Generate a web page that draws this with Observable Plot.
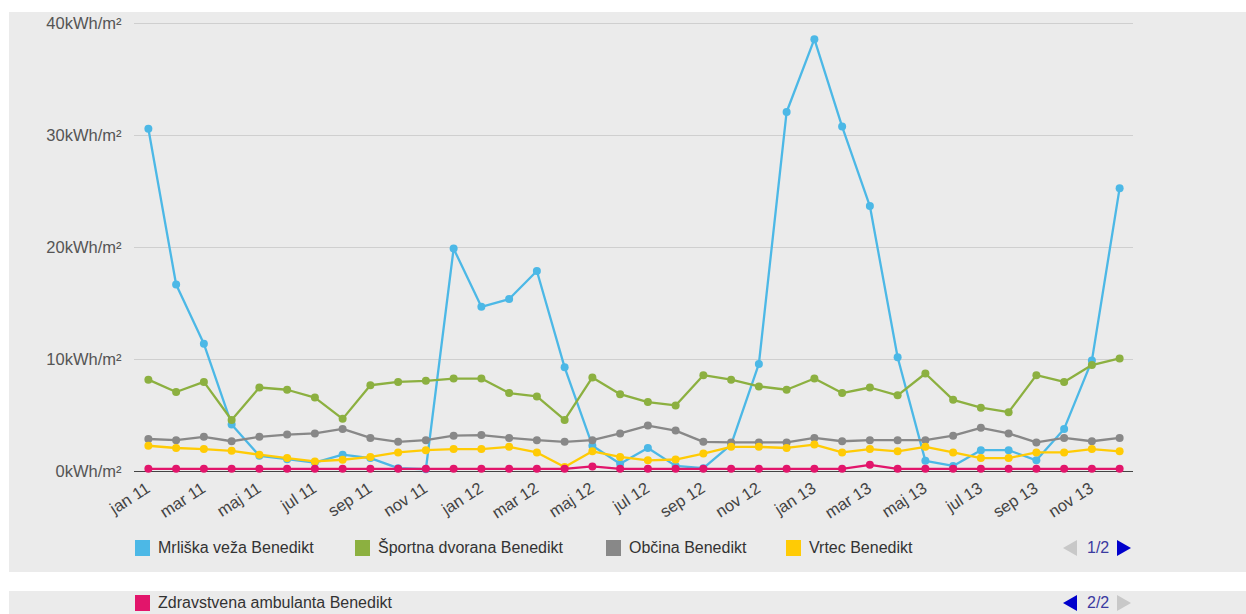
<!DOCTYPE html>
<html>
<head>
<meta charset="utf-8">
<script src="https://cdn.jsdelivr.net/npm/d3@7"></script>
<script src="https://cdn.jsdelivr.net/npm/@observablehq/plot@0.6"></script>
<style>
  html, body { margin: 0; padding: 0; background: #fff; width: 1246px; height: 614px; overflow: hidden; font-family: "Liberation Sans", Arial, sans-serif; }
  #panel { position: absolute; left: 9px; top: 12px; width: 1237px; height: 560px; background: #ebebeb; }
  #strip2 { position: absolute; left: 9px; top: 591px; width: 1237px; height: 23px; background: #ebebeb; }
  #chart { position: absolute; left: 0; top: 0; }
  .sw { position: absolute; width: 15px; height: 16px; }
  .lt { position: absolute; font-size: 16px; color: #333; white-space: nowrap; line-height: 16px; }
  .pg { position: absolute; font-size: 16px; color: #3a3aa0; line-height: 16px; }
  .tri { position: absolute; width: 0; height: 0; border-top: 8px solid transparent; border-bottom: 8px solid transparent; }
</style>
</head>
<body>
<div id="panel"></div>
<div id="strip2"></div>
<div id="chart"></div>
<div id="legend"></div>
<script>
const months = [
  "jan 11","feb 11","mar 11","apr 11","maj 11","jun 11","jul 11","avg 11","sep 11","okt 11","nov 11","dec 11",
  "jan 12","feb 12","mar 12","apr 12","maj 12","jun 12","jul 12","avg 12","sep 12","okt 12","nov 12","dec 12",
  "jan 13","feb 13","mar 13","apr 13","maj 13","jun 13","jul 13","avg 13","sep 13","okt 13","nov 13","dec 13"
];
const seriesNames = ["Mrliška veža Benedikt","Športna dvorana Benedikt","Občina Benedikt","Vrtec Benedikt","Zdravstvena ambulanta Benedikt"];
const seriesColors = ["#4cb8e6","#8cb040","#888888","#ffcb05","#e2156b"];
const mrliska = [30.6,16.7,11.4,4.2,1.4,1.1,0.8,1.5,1.2,0.3,0.2,19.9,14.7,15.4,17.9,9.3,2.3,0.7,2.1,0.5,0.3,2.4,9.6,32.1,38.6,30.8,23.7,10.2,0.95,0.5,1.9,1.9,1.0,3.8,9.9,25.3];
const sportna = [8.2,7.1,8.0,4.6,7.5,7.3,6.6,4.7,7.7,8.0,8.1,8.3,8.3,7.0,6.7,4.6,8.4,6.9,6.2,5.9,8.6,8.2,7.6,7.3,8.3,7.0,7.5,6.8,8.75,6.4,5.7,5.3,8.6,8.0,9.5,10.1];
const obcina = [2.9,2.8,3.1,2.7,3.1,3.3,3.4,3.8,3.0,2.65,2.8,3.2,3.25,3.0,2.8,2.65,2.8,3.4,4.1,3.65,2.65,2.6,2.6,2.6,3.0,2.7,2.8,2.8,2.8,3.2,3.9,3.4,2.6,3.0,2.7,3.0];
const vrtec = [2.3,2.1,2.0,1.85,1.5,1.2,0.9,1.05,1.3,1.7,1.9,2.0,2.0,2.2,1.7,0.4,1.8,1.3,1.0,1.07,1.6,2.2,2.2,2.1,2.4,1.7,2.0,1.8,2.2,1.7,1.2,1.2,1.7,1.7,2.0,1.8];
const zdravstvena = [0.24,0.24,0.24,0.24,0.24,0.24,0.24,0.24,0.24,0.24,0.24,0.24,0.24,0.24,0.24,0.24,0.45,0.24,0.24,0.24,0.24,0.24,0.24,0.24,0.24,0.24,0.6,0.24,0.24,0.24,0.24,0.24,0.24,0.24,0.24,0.24];
const yTicks = [0,10,20,30,40];
const allSeries = [mrliska, sportna, obcina, vrtec, zdravstvena];

const rows = [];
allSeries.forEach((vals, s) => vals.forEach((v, i) => rows.push({series: seriesNames[s], month: months[i], value: v})));

const seriesMarks = [];
seriesNames.forEach((name, s) => {
  const data = rows.filter(r => r.series === name);
  seriesMarks.push(Plot.line(data, {x: "month", y: "value", stroke: seriesColors[s], strokeWidth: 2.3}));
  seriesMarks.push(Plot.dot(data, {x: "month", y: "value", fill: seriesColors[s], r: 4}));
});

const chart = Plot.plot({
  width: 1246, height: 530,
  marginLeft: 134, marginRight: 113, marginTop: 23, marginBottom: 59,
  style: {background: "transparent", fontFamily: "'Liberation Sans', Arial, sans-serif", fontSize: "16px", color: "#555"},
  x: {type: "point", domain: months, padding: 0.5, round: false},
  y: {domain: [0, 40]},
  marks: [
    Plot.ruleY(yTicks.filter(d => d > 0), {stroke: "#cfcfcf", strokeWidth: 1}),
    Plot.axisY({ticks: yTicks, tickSize: 0, tickPadding: 13, tickFormat: d => d + "kWh/m²", label: null, fontSize: 16.5, fill: "#555"}),
    Plot.axisX({ticks: months.filter((d, i) => i % 2 === 0), tickSize: 0, tickPadding: 15, tickRotate: -33, label: null, fontSize: 16.5, fill: "#444"}),
    Plot.ruleY([0], {stroke: "#444", strokeWidth: 1}),
    ...seriesMarks
  ]
});
document.getElementById("chart").appendChild(chart);

// legend
const legend = document.getElementById("legend");
const items1 = [
  {i: 0, sx: 135, tx: 158},
  {i: 1, sx: 355, tx: 378},
  {i: 2, sx: 606, tx: 629},
  {i: 3, sx: 786, tx: 809}
];
function addItem(i, sx, tx, top) {
  const sw = document.createElement("div");
  sw.className = "sw"; sw.style.left = sx + "px"; sw.style.top = top + "px"; sw.style.background = seriesColors[i];
  legend.appendChild(sw);
  const t = document.createElement("div");
  t.className = "lt"; t.style.left = tx + "px"; t.style.top = top + "px"; t.textContent = seriesNames[i];
  legend.appendChild(t);
}
items1.forEach(d => addItem(d.i, d.sx, d.tx, 540));
addItem(4, 135, 158, 595);

function pager(top, text, leftActive, rightActive) {
  const l = document.createElement("div");
  l.className = "tri"; l.style.left = "1063px"; l.style.top = top + "px";
  l.style.borderRight = "14px solid " + (leftActive ? "#0000cc" : "#c8c8c8");
  legend.appendChild(l);
  const t = document.createElement("div");
  t.className = "pg"; t.style.left = "1087px"; t.style.top = top + "px"; t.textContent = text;
  legend.appendChild(t);
  const r = document.createElement("div");
  r.className = "tri"; r.style.left = "1117px"; r.style.top = top + "px";
  r.style.borderLeft = "14px solid " + (rightActive ? "#0000cc" : "#c8c8c8");
  legend.appendChild(r);
}
pager(540, "1/2", false, true);
pager(595, "2/2", true, false);
</script>
</body>
</html>
